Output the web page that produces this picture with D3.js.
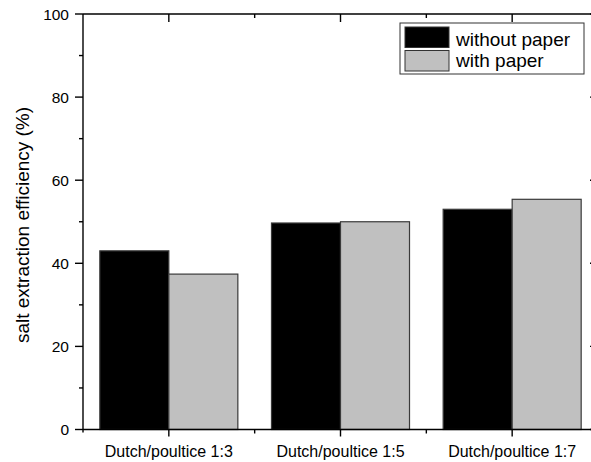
<!DOCTYPE html>
<html>
<head>
<meta charset="utf-8">
<script src="https://cdn.jsdelivr.net/npm/d3@7"></script>
<style>
  html, body { margin: 0; padding: 0; background: #fff; }
  svg { display: block; font-family: "Liberation Sans", Arial, sans-serif; }
</style>
</head>
<body>
<svg id="chart" width="591" height="462"></svg>
<script>
const categories = ["Dutch/poultice 1:3", "Dutch/poultice 1:5", "Dutch/poultice 1:7"];
const seriesNames = ["without paper", "with paper"];
const withoutPaper = [43.0, 49.7, 53.0];
const withPaper = [37.4, 50.0, 55.4];
const yTicks = [0, 20, 40, 60, 80, 100];
const yMinorTicks = [10, 30, 50, 70, 90];
const yLabel = "salt extraction efficiency (%)";

const colors = ["#000000", "#c0c0c0"];
const svg = d3.select("#chart");

const pL = 83, pR = 598, pT = 14, pB = 429.5;
const x = d3.scaleBand().domain(categories).range([pL, pR]).paddingInner(0).paddingOuter(0);
const y = d3.scaleLinear().domain([0, 100]).range([pB, pT]);
const groupW = x.bandwidth() * 0.804;
const xs = d3.scaleBand().domain(seriesNames).range([0, groupW]).padding(0);

const rows = categories.map((c, i) => ({ cat: c, values: [withoutPaper[i], withPaper[i]] }));

// bars
const g = svg.append("g");
rows.forEach(r => {
  seriesNames.forEach((s, j) => {
    const x0 = x(r.cat) + (x.bandwidth() - groupW) / 2 + xs(s);
    g.append("rect")
      .attr("x", x0)
      .attr("y", y(r.values[j]))
      .attr("width", xs.bandwidth())
      .attr("height", y(0) - y(r.values[j]))
      .attr("fill", colors[j])
      .attr("stroke", "#3a3a3a")
      .attr("stroke-width", 1.2);
  });
});

// axes
const ax = svg.append("g").attr("stroke", "#000").attr("stroke-width", 1.4).attr("fill", "none");
ax.append("line").attr("x1", pL).attr("x2", pL).attr("y1", pT).attr("y2", pB + 3);
ax.append("line").attr("x1", pL).attr("x2", pR).attr("y1", pB).attr("y2", pB);
ax.append("line").attr("x1", pL).attr("x2", pR).attr("y1", pT).attr("y2", pT);
ax.append("line").attr("x1", pR).attr("x2", pR).attr("y1", pT).attr("y2", pB);

yTicks.forEach(t => {
  ax.append("line").attr("x1", pL - 8).attr("x2", pL).attr("y1", y(t)).attr("y2", y(t));
  ax.append("line").attr("x1", pR - 8).attr("x2", pR).attr("y1", y(t)).attr("y2", y(t));
});
yMinorTicks.forEach(t => {
  ax.append("line").attr("x1", pL - 4).attr("x2", pL).attr("y1", y(t)).attr("y2", y(t));
  ax.append("line").attr("x1", pR - 4).attr("x2", pR).attr("y1", y(t)).attr("y2", y(t));
});

categories.forEach(c => {
  const cx = x(c) + x.bandwidth() / 2;
  ax.append("line").attr("x1", cx).attr("x2", cx).attr("y1", pB).attr("y2", pB + 7);
  ax.append("line").attr("x1", cx).attr("x2", cx).attr("y1", pT).attr("y2", pT + 8);
});
categories.slice(1).forEach(c => {
  const bx = x(c);
  ax.append("line").attr("x1", bx).attr("x2", bx).attr("y1", pB).attr("y2", pB + 4);
  ax.append("line").attr("x1", bx).attr("x2", bx).attr("y1", pT).attr("y2", pT + 4);
});

// tick labels
svg.append("g").selectAll("text").data(yTicks).join("text")
  .attr("x", 69).attr("y", d => y(d)).attr("dy", "0.36em")
  .attr("text-anchor", "end").attr("font-size", 15.5).attr("fill", "#000")
  .text(d => d);

svg.append("g").selectAll("text").data(categories).join("text")
  .attr("x", d => x(d) + x.bandwidth() / 2).attr("y", 456.5)
  .attr("text-anchor", "middle").attr("font-size", 16).attr("fill", "#000")
  .text(d => d);

// y label
svg.append("text")
  .attr("transform", "translate(29,225) rotate(-90)")
  .attr("text-anchor", "middle").attr("font-size", 19).attr("fill", "#000")
  .text(yLabel);

// legend
const lg = svg.append("g");
lg.append("rect").attr("x", 400).attr("y", 23).attr("width", 184).attr("height", 51)
  .attr("fill", "#fff").attr("stroke", "#333").attr("stroke-width", 1);
seriesNames.forEach((s, j) => {
  lg.append("rect").attr("x", 405).attr("y", 27 + j * 23.5).attr("width", 44).attr("height", 20.5)
    .attr("fill", colors[j]).attr("stroke", "#333").attr("stroke-width", 1);
  lg.append("text").attr("x", 456).attr("y", 45.5 + j * 21.5)
    .attr("font-size", 19).attr("fill", "#000").text(s);
});
</script>
</body>
</html>
